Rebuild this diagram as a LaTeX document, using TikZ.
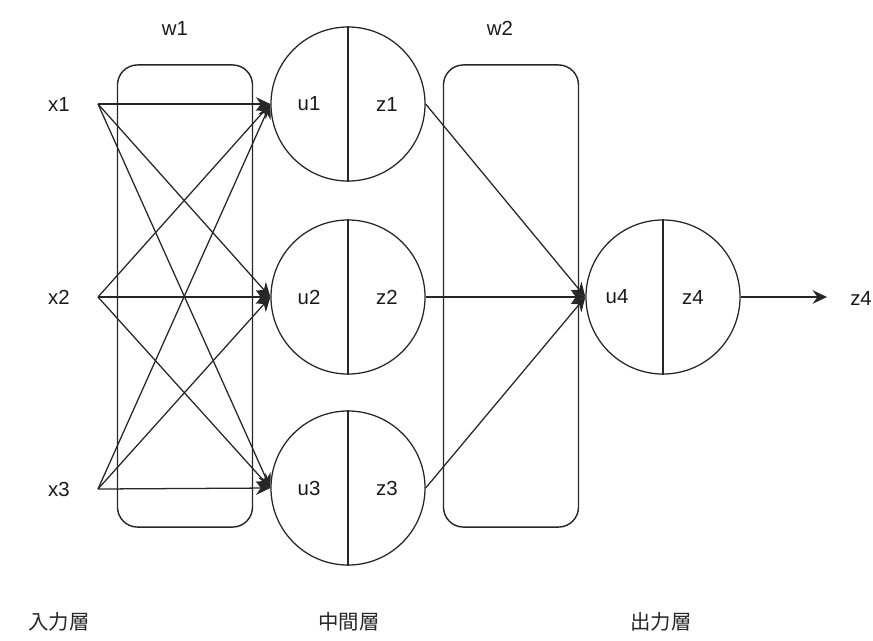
\documentclass[tikz,border=0pt]{standalone}
\usepackage{fontspec}
\setmainfont{Liberation Sans}
\newfontfamily\jpfont{Noto Sans CJK JP}
\usepackage{tikz}
\usetikzlibrary{arrows.meta,positioning,calc}
\tikzset{
  flowarrow/.style={-{Stealth[length=3.6mm,width=3.4mm,inset=1.2mm]}, line width=0.9pt, draw=black!85},
  plainline/.style={line width=0.9pt, draw=black!85},
  weightbox/.style={draw=black!85, line width=1pt, rounded corners=0.5cm,
    minimum width=3.375cm, minimum height=11.55cm, inner sep=0pt},
  neuron/.style={draw=black!85, line width=0.9pt, circle, minimum size=3.85cm, inner sep=0pt},
  varlabel/.style={font=\fontsize{14.5}{16}\selectfont, inner sep=1pt, text=black!90},
  layerlabel/.style={font=\fontsize{14.5}{17}\selectfont\jpfont, inner sep=1pt, text=black!85}
}
\begin{document}
\begin{tikzpicture}[x=0.025cm, y=-0.025cm]
        \useasboundingbox (0,0) rectangle (873,640);

        % weight boxes
        \node[weightbox] (w1box) at (185,296) {};
        \node[weightbox] (w2box) at (511,296) {};
        \node[varlabel] (w1) at (175,28) {w1};
        \node[varlabel] (w2) at (500,28) {w2};

        % input layer
        \node[varlabel] (x1) at (59,104) {x1};
        \node[varlabel] (x2) at (59,297) {x2};
        \node[varlabel] (x3) at (59,489) {x3};
        \coordinate (s1) at (98,104);
        \coordinate (s2) at (98,297);
        \coordinate (s3) at (98,489);

        % hidden layer
        \node[neuron] (h1) at (348,104) {};
        \node[neuron] (h2) at (348,297) {};
        \node[neuron] (h3) at (348,488) {};
        \node[varlabel] (u1) at (309,104) {u1};
        \node[varlabel] (z1) at (387,104) {z1};
        \node[varlabel] (u2) at (309,297) {u2};
        \node[varlabel] (z2) at (387,297) {z2};
        \node[varlabel] (u3) at (309,488) {u3};
        \node[varlabel] (z3) at (387,488) {z3};

        % output layer
        \node[neuron] (o) at (663,297) {};
        \node[varlabel] (u4) at (617,297) {u4};
        \node[varlabel] (z4) at (693,297) {z4};
        \node[varlabel, anchor=west, inner sep=0pt] (out) at (850,298) {z4};
        \coordinate (tip) at (827,297);

        \draw[plainline] (h1.north) -- (h1.south);
        \draw[plainline] (h2.north) -- (h2.south);
        \draw[plainline] (h3.north) -- (h3.south);
        \draw[plainline] (o.north) -- (o.south);

        \draw[flowarrow] (s1) -- (h1.west);
        \draw[flowarrow] (s1) -- (h2.west);
        \draw[flowarrow] (s1) -- (h3.west);
        \draw[flowarrow] (s2) -- (h1.west);
        \draw[flowarrow] (s2) -- (h2.west);
        \draw[flowarrow] (s2) -- (h3.west);
        \draw[flowarrow] (s3) -- (h1.west);
        \draw[flowarrow] (s3) -- (h2.west);
        \draw[flowarrow] (s3) -- (h3.west);

        \draw[flowarrow] (h1.east) -- (o.west);
        \draw[flowarrow] (h2.east) -- (o.west);
        \draw[flowarrow] (h3.east) -- (o.west);
        \draw[flowarrow] (o.east) -- (tip);

        % layer names
        \node[layerlabel] (inlayer) at (59,622) {入力層};
        \node[layerlabel] (midlayer) at (349,622) {中間層};
        \node[layerlabel] (outlayer) at (661,622) {出力層};
    \end{tikzpicture}
\end{document}
